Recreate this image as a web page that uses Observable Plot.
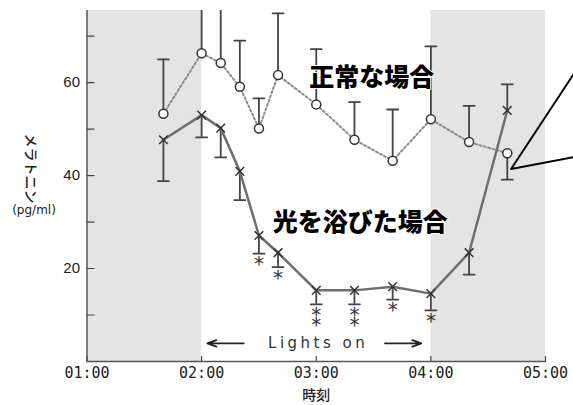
<!DOCTYPE html>
<html><head><meta charset="utf-8">
<script src="https://cdn.jsdelivr.net/npm/d3@7"></script>
<script src="https://cdn.jsdelivr.net/npm/@observablehq/plot@0.6"></script>
<style>body{margin:0;background:#fff;} #chart{width:573px;height:405px;}</style>
</head><body><div id="chart"></div>
<script>
// ---- data ----
const times = ["01:40","02:00","02:10","02:20","02:30","02:40","03:00","03:20","03:40","04:00","04:20","04:40"];
const normalMean   = [53.3, 66.3, 64.2, 59.1, 50.1, 61.6, 55.3, 47.7, 43.2, 52.1, 47.2, 44.8];
const normalBarEnd = [65.0, 82.0, 80.0, 69.0, 56.6, 74.9, 67.2, 55.8, 54.2, 67.8, 55.0, 39.1];
const lightMean    = [47.7, 53.0, 50.2, 40.9, 27.1, 23.4, 15.3, 15.3, 16.1, 14.6, 23.4, 54.0];
const lightBarEnd  = [38.8, 48.2, 43.9, 34.7, 23.2, 20.3, 12.3, 12.3, 13.3, 11.0, 18.7, 59.6];
const lightStars   = ["", "", "", "", "＊", "＊", "＊\n＊", "＊\n＊", "＊", "＊", "", ""];
const xTickLabels = ["01:00","02:00","03:00","04:00","05:00"];
const yTickMarks = [10, 20, 30, 40, 50, 60, 70];
const yTickLabels = [20, 40, 60];
const darkStart = ["01:00", "04:00"];
const darkEnd   = ["02:00", "05:00"];
const yMax = 75.5;
const seriesLabels = ["正常な場合", "光を浴びた場合"];
const seriesLabelTimes = ["03:29", "03:23"];
const seriesLabelValues = [61.0, 29.8];
const lightsOnText = "Lights on";
const lightsOnTime = "03:01";
const lightsOnValue = 3.9;
const arrowFrom = ["02:22", "03:36"];
const arrowTo   = ["02:03", "03:55"];
const calloutTimes = ["05:15", "04:42", "05:15"];
const calloutValues = [62.0, 41.4, 44.0];
const yLabel = "メラトニン";
const yUnit = "(pg/ml)";
const xLabel = "時刻";

// ---- helpers ----
const toMin = s => { const [h, m] = s.split(":").map(Number); return h * 60 + m; };
const fmt = m => String(Math.floor(m / 60)).padStart(2, "0") + ":" + String(m % 60).padStart(2, "0");

const normal = times.map((t, i) => ({t: toMin(t), v: normalMean[i], e: normalBarEnd[i]}));
const light = times.map((t, i) => ({t: toMin(t), v: lightMean[i], e: lightBarEnd[i], s: lightStars[i]}));
const dark = darkStart.map((s, i) => ({x1: toMin(s), x2: toMin(darkEnd[i])}));
const labels = seriesLabels.map((s, i) => ({text: s, t: toMin(seriesLabelTimes[i]), v: seriesLabelValues[i]}));
const arrows = arrowFrom.map((a, i) => ({x1: toMin(a), x2: toMin(arrowTo[i]), y: lightsOnValue}));
const callout = calloutTimes.map((t, i) => ({t: toMin(t), v: calloutValues[i]}));
const xTicks = xTickLabels.map(toMin);

const tickShape = {draw(ctx, l) { ctx.moveTo(0, 0); ctx.lineTo(0, -l); }};
const capShape = {draw(ctx, l) { ctx.moveTo(-l / 2, 0); ctx.lineTo(l / 2, 0); }};

const barColor = "#444";
const chart = Plot.plot({
  width: 573, height: 405,
  marginLeft: 86.5, marginRight: 28, marginTop: 10, marginBottom: 44,
  x: {domain: [xTicks[0], xTicks[xTicks.length - 1]]},
  y: {domain: [0, yMax]},
  style: {fontFamily: "'DejaVu Sans Mono', monospace", fontSize: "15px", color: "#222", background: "white", overflow: "visible"},
  marks: [
    Plot.rect(dark, {x1: "x1", x2: "x2", fill: "#e4e4e4"}),
    // inward ticks
    Plot.vector(yTickMarks, {y: d => d, frameAnchor: "left", length: 7, rotate: 90, anchor: "start", shape: tickShape, stroke: "#444", strokeWidth: 1.2}),
    Plot.vector(xTicks, {x: d => d, frameAnchor: "bottom", length: 5, anchor: "start", shape: tickShape, stroke: "#444", strokeWidth: 1.2}),
    Plot.axisY(yTickLabels, {tickSize: 0, tickPadding: 7, fontSize: 15, label: null, fontFamily: "'Liberation Sans', sans-serif"}),
    Plot.axisX(xTicks, {tickSize: 0, tickPadding: 6, tickFormat: fmt, fontSize: 15, label: null}),
    Plot.ruleX([xTicks[0]], {stroke: "#555", strokeWidth: 1.5}),
    Plot.ruleY([0], {stroke: "#555", strokeWidth: 1.5}),
    // Lights on annotation
    Plot.text([lightsOnText], {x: toMin(lightsOnTime), y: lightsOnValue, text: d => d, fontFamily: "'DejaVu Sans', sans-serif", fontSize: 15, fill: "#333"}),
    Plot.arrow(arrows, {x1: "x1", x2: "x2", y1: "y", y2: "y", stroke: "#222", strokeWidth: 1.8, headLength: 8, headAngle: 40}),
    // error bars
    Plot.ruleX(normal, {x: "t", y1: "v", y2: "e", stroke: barColor, strokeWidth: 1.8, clip: true}),
    Plot.vector(normal, {x: "t", y: "e", length: 11, anchor: "start", shape: capShape, stroke: barColor, strokeWidth: 1.8, clip: true}),
    Plot.ruleX(light, {x: "t", y1: "v", y2: "e", stroke: barColor, strokeWidth: 1.8}),
    Plot.vector(light, {x: "t", y: "e", length: 11, anchor: "start", shape: capShape, stroke: barColor, strokeWidth: 1.8}),
    // lines
    Plot.line(normal, {x: "t", y: "v", stroke: "#8a8a8a", strokeWidth: 2, strokeDasharray: "2,2.5"}),
    Plot.line(light, {x: "t", y: "v", stroke: "#6e6e6e", strokeWidth: 2.5}),
    // points
    Plot.dot(normal, {x: "t", y: "v", r: 4.5, fill: "white", stroke: "#333", strokeWidth: 1.5}),
    Plot.dot(light, {x: "t", y: "v", r: 4, symbol: "times", stroke: "#333", strokeWidth: 1.5}),
    // significance stars
    Plot.text(light.filter(d => d.s), {x: "t", y: "e", text: "s", lineAnchor: "top", dy: 5, fontSize: 12, lineHeight: 0.88, fill: "#333", stroke: "#333", strokeWidth: 0.4, fontFamily: "'Noto Sans CJK JP', sans-serif"}),
    // series labels
    Plot.text(labels, {x: "t", y: "v", text: "text", fontSize: 25, fontWeight: 900, fill: "#000", stroke: "white", strokeWidth: 2, fontFamily: "'Noto Sans CJK JP', sans-serif"}),
    // callout
    Plot.line(callout, {x: "t", y: "v", stroke: "#000", strokeWidth: 2}),
    // axis titles
    Plot.text([yLabel], {frameAnchor: "left", text: d => d, rotate: 90, textAnchor: "middle", lineAnchor: "middle", dx: -56.5, dy: -17.5, fontSize: 14, fontWeight: 500, fontFamily: "'Noto Sans CJK JP', sans-serif", fill: "#222"}),
    Plot.text([yUnit], {frameAnchor: "left", text: d => d, textAnchor: "middle", lineAnchor: "middle", dx: -53, dy: 24.5, fontSize: 12, fontFamily: "'DejaVu Sans', sans-serif", fill: "#222"}),
    Plot.text([xLabel], {x: toMin("03:00"), frameAnchor: "bottom", text: d => d, lineAnchor: "middle", dy: 34, fontSize: 14, fontWeight: 500, fontFamily: "'Noto Sans CJK JP', sans-serif", fill: "#222"})
  ]
});
d3.select(chart).selectAll("text").filter(function() { return this.textContent === lightsOnText; }).style("letter-spacing", "3.5px");
document.getElementById("chart").appendChild(chart);
</script>
</body></html>
